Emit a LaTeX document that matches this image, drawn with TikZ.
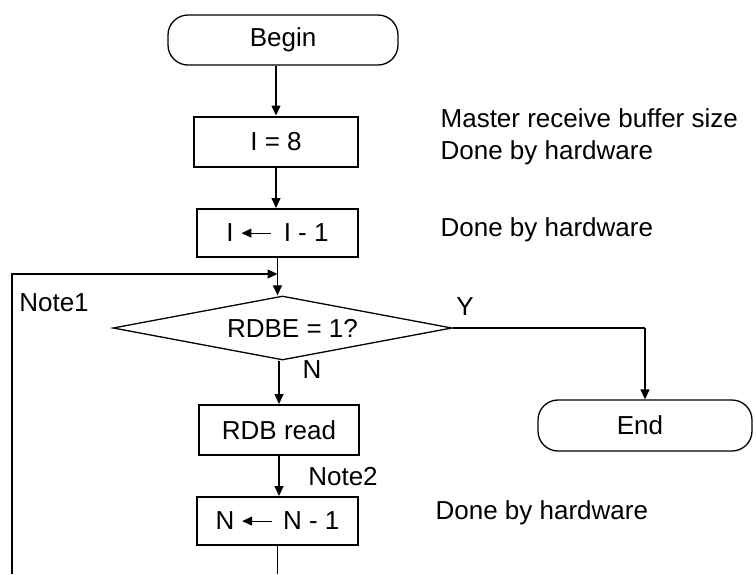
\documentclass[tikz,border=0pt]{standalone}
\usepackage{fontspec}
\setmainfont{Liberation Sans}
\usetikzlibrary{shapes.geometric,arrows.meta}
\newcommand{\larr}{\tikz[baseline=-0.34em]\draw[line width=0.6pt,{Triangle[length=5pt,width=4.5pt]}-] (0pt,0pt) -- (15pt,0pt);}
\begin{document}
\begin{tikzpicture}[x=0.5pt,y=-0.5pt,
  font=\fontsize{13}{15.6}\selectfont,
  line width=0.65pt,
  term/.style={draw, rounded corners=10pt, inner sep=0pt, line width=0.65pt},
  proc/.style={draw, line width=1pt, inner sep=0pt},
  arr/.style={-{Triangle[length=5pt,width=4.5pt]}},
  lbl/.style={inner sep=0pt}]
\useasboundingbox (0,0) rectangle (756,574);

\node[term, minimum width=115pt, minimum height=25pt] (begin) at (283,40) {Begin};
\node[proc, minimum width=82pt, minimum height=25pt] (i8) at (276,141.5) {I = 8};
\node[proc, minimum width=80.5pt, minimum height=24pt] (i1) at (277.5,233) {I \larr\hspace{0.45em}I - 1};
\node[draw, diamond, aspect=5.3, minimum width=169.5pt, minimum height=32pt, inner sep=0pt] (dia) at (282.5,328) {\hspace{10pt}RDBE = 1?};
\node[proc, minimum width=80pt, minimum height=25pt] (rdb) at (279,430) {RDB read};
\node[proc, minimum width=80.5pt, minimum height=24pt] (n1) at (277.5,521) {N \larr\hspace{0.4em}N - 1};
\node[term, minimum width=107pt, minimum height=25.5pt] (end) at (645,425.5) {\hspace{-5pt}End};

\node[lbl] (note1) at (54,303) {Note1};
\node[lbl] (nlab) at (312,370) {N};
\node[lbl] (ylab) at (465,307) {Y};
\node[lbl] (note2) at (343,477) {Note2};
\node[lbl, anchor=base west] (c1) at (440,127) {Master receive buffer size};
\node[lbl, anchor=base west] (c2) at (440,159) {Done by hardware};
\node[lbl, anchor=base west] (c3) at (440,236) {Done by hardware};
\node[lbl, anchor=base west] (c4) at (435,519) {Done by hardware};

\coordinate (fb0) at (12,574);
\coordinate (fb1) at (12,274);
\coordinate (yc) at (dia.east -| end.north);

\draw[arr] (begin.south -| i8.north) -- (i8.north);
\draw[arr] (i8.south) -- (i8.south |- i1.north);
\draw[arr] (i1.south) -- (i1.south |- dia.north);
\draw[arr] (fb0) -- (fb1) -- (fb1 -| i1.south);
\draw[arr] (rdb.north |- dia.south) -- (rdb.north);
\draw[arr] (rdb.south) -- (rdb.south |- n1.north);
\draw (n1.south) -- (n1.south |- fb0);
\draw[line width=1pt] (dia.east) -- (yc);
\draw[arr] (yc) -- (end.north);
\end{tikzpicture}
\end{document}
